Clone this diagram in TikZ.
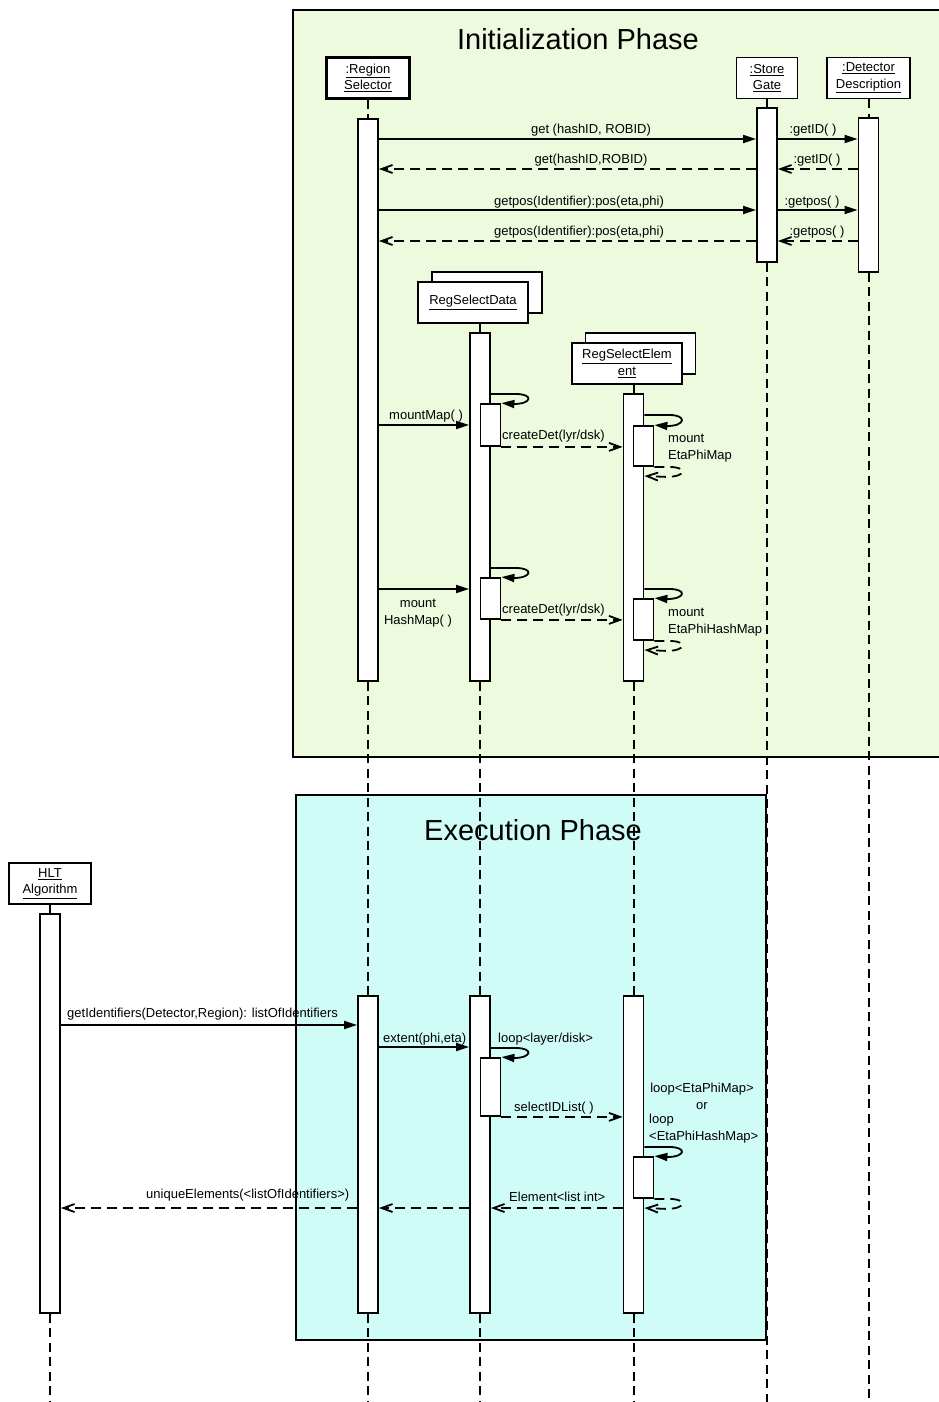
\documentclass[tikz,border=0pt]{standalone}
\usepackage{fontspec}
\setmainfont{Liberation Sans}
\usetikzlibrary{arrows.meta, positioning, calc}

\definecolor{initgreen}  {RGB}{237, 250, 222}
\definecolor{execcyan}   {RGB}{208, 252, 247}

\newcommand{\msgfont}{\fontsize{13}{16.5}\selectfont}
\newcommand{\phasefont}{\fontsize{29}{34}\selectfont}

\begin{document}
\begin{tikzpicture}[x=1pt, y=-1pt,
	objbox/.style={draw, line width=1.8pt, fill=white, align=center, font=\msgfont,
		minimum height=41pt, inner sep=0pt},
	actbar/.style={draw, line width=1.8pt, fill=white, minimum width=20pt, inner sep=0pt},
	lifeline/.style={line width=2pt, dash pattern=on 9pt off 5.5pt},
	call/.style={line width=1.8pt, -{Triangle[length=13pt,width=8pt]}},
	reply/.style={line width=1.8pt, dash pattern=on 10pt off 6pt, -{Straight Barb[length=11pt,width=8pt]}},
	msg/.style={font=\msgfont, inner sep=0pt},
	phase/.style={line width=2.6pt}]
	\useasboundingbox (0,0) rectangle (939,1402);
	\coordinate (bottom) at (0,1402);

	% phases
	\filldraw[phase, fill=initgreen] (293,10) rectangle (946,757);
	\filldraw[phase, fill=execcyan] (296,795) rectangle (766,1340);
	\node[font=\phasefont, inner sep=0pt, anchor=base] (initT) at (578,50) {Initialization Phase};
	\node[font=\phasefont, inner sep=0pt, anchor=base] (execT) at (533,840) {Execution Phase};

	% objects
	\node[objbox, line width=3pt, minimum width=83pt] (rsel) at (368,78) {\underline{:Region}\\\underline{Selector}};
	\node[objbox, minimum width=61pt] (sgate) at (767,78) {\underline{:Store}\\\underline{Gate}};
	\node[objbox, minimum width=83pt] (ddesc) at (868.5,78) {\underline{:Detector}\\\underline{Description}};
	\node[objbox, minimum width=110pt] (rsdataB) at (487,292.5) {};
	\node[objbox, minimum width=110pt] (rsdata) at (473,302.5) {\underline{RegSelectData}};
	\node[objbox, minimum width=110pt] (rselemB) at (640.5,353.5) {};
	\node[objbox, minimum width=110pt] (rselem) at (627,363.5) {\underline{RegSelectElem}\\\underline{ent}};
	\node[objbox, minimum width=82pt] (hlt) at (50,883.5) {\underline{HLT}\\\underline{Algorithm}};

	% activations, initialization
	\node[actbar, minimum height=562pt] (rsI) at (368,400) {};
	\node[actbar, minimum height=154pt] (sgI) at (767,185) {};
	\node[actbar, minimum height=154pt] (ddI) at (868.5,195) {};
	\node[actbar, minimum height=348pt] (rdI) at (480,507) {};
	\node[actbar, minimum height=287pt] (reI) at (633.5,537.5) {};
	\node[actbar, minimum height=42pt] (rdS1) at (490.5,425) {};
	\node[actbar, minimum height=41pt] (rdS2) at (490.5,598.5) {};
	\node[actbar, minimum height=40pt] (reS1) at (643.5,446) {};
	\node[actbar, minimum height=41pt] (reS2) at (643.5,619.5) {};
	% activations, execution
	\node[actbar, minimum height=399pt] (hltB) at (50,1113.5) {};
	\node[actbar, minimum height=317pt] (rsE) at (368,1154.5) {};
	\node[actbar, minimum height=317pt] (rdE) at (480,1154.5) {};
	\node[actbar, minimum height=317pt] (reE) at (633.5,1154.5) {};
	\node[actbar, minimum height=58pt] (rdS3) at (490.5,1087) {};
	\node[actbar, minimum height=41pt] (reS3) at (643.5,1177.5) {};

	% lifelines
	\draw[lifeline] (rsel.south) -- (rsI.north) (rsI.south) -- (rsE.north) (rsE.south) -- (rsE.south |- bottom);
	\draw[lifeline] (sgate.south) -- (sgI.north) (sgI.south) -- (sgI.south |- bottom);
	\draw[lifeline] (ddesc.south) -- (ddI.north) (ddI.south) -- (ddI.south |- bottom);
	\draw[lifeline] (rdI.north |- rsdata.south) -- (rdI.north) (rdI.south) -- (rdE.north) (rdE.south) -- (rdE.south |- bottom);
	\draw[lifeline] (reI.north |- rselem.south) -- (reI.north) (reI.south) -- (reE.north) (reE.south) -- (reE.south |- bottom);
	\draw[lifeline] (hlt.south) -- (hltB.north) (hltB.south) -- (hltB.south |- bottom);

	% initialization messages
	\draw[call] (rsI.east |- 0,139) -- (sgI.west |- 0,139);
	\draw[call] (sgI.east |- 0,139) -- (ddI.west |- 0,139);
	\draw[reply] (sgI.west |- 0,169) -- (rsI.east |- 0,169);
	\draw[reply] (ddI.west |- 0,169) -- (sgI.east |- 0,169);
	\draw[call] (rsI.east |- 0,210) -- (sgI.west |- 0,210);
	\draw[call] (sgI.east |- 0,210) -- (ddI.west |- 0,210);
	\draw[reply] (sgI.west |- 0,241) -- (rsI.east |- 0,241);
	\draw[reply] (ddI.west |- 0,241) -- (sgI.east |- 0,241);
	\node[msg, anchor=base] (getA) at (591,133) {get (hashID, ROBID)};
	\node[msg, anchor=base] (getidA) at (813,133) {:getID( )};
	\node[msg, anchor=base] (getB) at (591,163) {get(hashID,ROBID)};
	\node[msg, anchor=base] (getidB) at (817,163) {:getID( )};
	\node[msg, anchor=base] (posA) at (579,205) {getpos(Identifier):pos(eta,phi)};
	\node[msg, anchor=base] (getposA) at (812,205) {:getpos( )};
	\node[msg, anchor=base] (posB) at (579,235) {getpos(Identifier):pos(eta,phi)};
	\node[msg, anchor=base] (getposB) at (817,235) {:getpos( )};

	\draw[call] (rsI.east |- 0,425) -- (rdI.west |- 0,425);
	\draw[call] (rdI.east |- 0,394) -- ++(25,0) .. controls +(18,0) and +(18,0) .. ++(-2,10) -- (rdS1.north east);
	\draw[reply] (rdS1.south east) -- (reI.west |- rdS1.south east);
	\draw[call] (reI.east |- 0,415) -- ++(25,0) .. controls +(18,0) and +(18,0) .. ++(-2,11) -- (reS1.north east);
	\draw[reply] (reS1.south east) -- ++(14,0) .. controls +(20,0) and +(20,0) .. ++(-2,10) -- (reI.east |- 0,476);
	\node[msg, anchor=base west] (mmap) at (389,419) {mountMap( )};
	\node[msg, anchor=base west] (cdetA) at (502,439) {createDet(lyr/dsk)};
	\node[msg, anchor=base west, align=left] (epmap) at (668,459) {mount\\EtaPhiMap};

	\draw[call] (rsI.east |- 0,589) -- (rdI.west |- 0,589);
	\draw[call] (rdI.east |- 0,568) -- ++(25,0) .. controls +(18,0) and +(18,0) .. ++(-2,10) -- (rdS2.north east);
	\draw[reply] (rdS2.south east) -- (reI.west |- rdS2.south east);
	\draw[call] (reI.east |- 0,589) -- ++(25,0) .. controls +(18,0) and +(18,0) .. ++(-2,10) -- (reS2.north east);
	\draw[reply] (reS2.south east) -- ++(14,0) .. controls +(20,0) and +(20,0) .. ++(-2,10) -- (reI.east |- 0,650);
	\node[msg, anchor=base, align=center] (hmap) at (418,624) {mount\\HashMap( )};
	\node[msg, anchor=base west] (cdetB) at (502,613) {createDet(lyr/dsk)};
	\node[msg, anchor=base west, align=left] (ephmap) at (668,633) {mount\\EtaPhiHashMap};

	% execution messages
	\draw[call] (hltB.east |- 0,1025) -- (rsE.west |- 0,1025);
	\draw[call] (rsE.east |- 0,1047) -- (rdE.west |- 0,1047);
	\draw[call] (rdE.east |- 0,1048) -- ++(25,0) .. controls +(18,0) and +(18,0) .. ++(-2,10) -- (rdS3.north east);
	\draw[reply] (rdS3.south east) -- (reE.west |- rdS3.south east);
	\draw[call] (reE.east |- 0,1147) -- ++(25,0) .. controls +(18,0) and +(18,0) .. ++(-2,10) -- (reS3.north east);
	\draw[reply] (reS3.south east) -- ++(14,0) .. controls +(20,0) and +(20,0) .. ++(-2,10) -- (reE.east |- 0,1208);
	\draw[reply] (reE.west |- 0,1208) -- (rdE.east |- 0,1208);
	\draw[reply] (rdE.west |- 0,1208) -- (rsE.east |- 0,1208);
	\draw[reply] (rsE.west |- 0,1208) -- (hltB.east |- 0,1208);
	\node[msg, anchor=base west] (getids) at (67,1017) {getIdentifiers(Detector,Region): listOfIdentifiers};
	\node[msg, anchor=base west] (extent) at (383,1042) {extent(phi,eta)};
	\node[msg, anchor=base west] (looplyr) at (498,1042) {loop<layer/disk>};
	\node[msg, anchor=base west] (selid) at (514,1111) {selectIDList( )};
	\node[msg, anchor=base, align=center] (loopA) at (702,1109) {loop<EtaPhiMap>\\or};
	\node[msg, anchor=base west, align=left] (loopB) at (649,1140) {loop\\<EtaPhiHashMap>};
	\node[msg, anchor=base west] (elemlist) at (509,1201) {Element<list int>};
	\node[msg, anchor=base west] (uniq) at (146,1198) {uniqueElements(<listOfIdentifiers>)};
\end{tikzpicture}
\end{document}
